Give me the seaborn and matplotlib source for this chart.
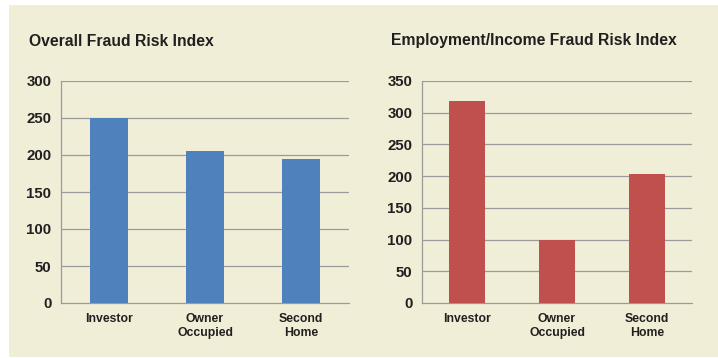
import matplotlib
matplotlib.use("Agg")
import matplotlib.pyplot as plt
from matplotlib.patches import Rectangle
from matplotlib.ticker import FixedLocator
import seaborn as sns
import pandas as pd

categories = ["Investor", "Owner\nOccupied", "Second\nHome"]
overall_index = [250, 205, 195]
employment_index = [319, 100, 203]
overall_ticks = [0, 50, 100, 150, 200, 250, 300]
employment_ticks = [0, 50, 100, 150, 200, 250, 300, 350]

BG = "#f1eed8"
GRID = "#9a9a9a"
BLUE = "#4f81bd"
RED = "#c0504d"
TEXT = "#231f20"

sns.set_theme(style="white")
plt.rcParams["font.family"] = ["Liberation Sans", "DejaVu Sans"]

fig = plt.figure(figsize=(7.18, 3.58), dpi=100, facecolor="white")
fig.patches.append(Rectangle((9 / 718, 1 / 358), 709 / 718, 352 / 358,
                             transform=fig.transFigure, facecolor=BG,
                             edgecolor="none", zorder=-10))

H = 358.0
W = 718.0


def panel(left, right, title, title_x, values, ticks, color):
    ax = fig.add_axes([left / W, (H - 303) / H, (right - left) / W, (303 - 81) / H])
    ax.set_facecolor("none")
    df = pd.DataFrame({"category": categories, "value": values})
    sns.barplot(data=df, x="category", y="value", color=color, width=0.4,
                saturation=1, linewidth=0, ax=ax, zorder=3)
    ax.set_xlim(-0.5, 2.5)
    ax.set_ylim(ticks[0], ticks[-1])
    ax.set_yticks(ticks)
    ax.set_yticklabels([str(t) for t in ticks], fontsize=10.8,
                       fontweight="bold", color=TEXT)
    ax.set_xticks(range(len(categories)))
    ax.set_xticklabels(categories, fontsize=8.8, fontweight="bold",
                       color=TEXT, linespacing=1.25)
    ax.xaxis.set_minor_locator(FixedLocator([-0.5, 0.5, 1.5, 2.5]))
    ax.tick_params(axis="x", which="major", length=0, pad=7)
    ax.tick_params(axis="x", which="minor", length=4, width=0.8,
                   color=GRID, direction="out")
    ax.tick_params(axis="y", length=4, width=0.8, color=GRID,
                   direction="out", pad=3)
    for t in ticks[1:]:
        ax.axhline(t, color=GRID, lw=0.9, zorder=1)
    for side in ["top", "right"]:
        ax.spines[side].set_visible(False)
    for side in ["left", "bottom"]:
        ax.spines[side].set_color(GRID)
        ax.spines[side].set_linewidth(0.9)
    ax.set_xlabel("")
    ax.set_ylabel("")
    fig.text(title_x / W, (H - 41) / H, title, fontsize=11.3,
             fontweight="bold", color=TEXT, ha="left", va="center")
    return ax


panel(61, 349, "Overall Fraud Risk Index", 29, overall_index, overall_ticks, BLUE)
panel(422, 692, "Employment/Income Fraud Risk Index", 391, employment_index,
      employment_ticks, RED)

fig.savefig("out.png", dpi=100, facecolor="white")
